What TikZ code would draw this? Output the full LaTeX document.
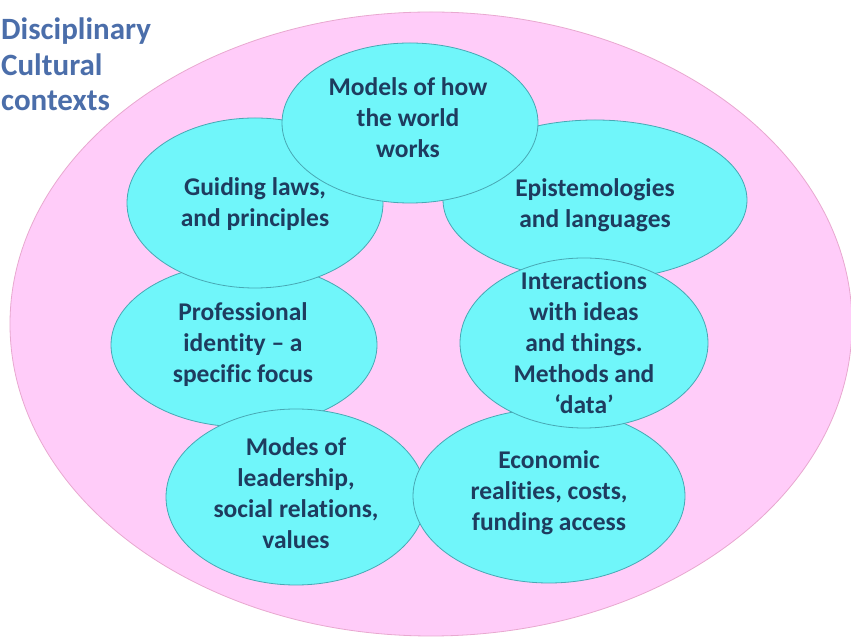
\documentclass[tikz,border=0pt]{standalone}
\usepackage{fontspec}
\setmainfont{Carlito}[RawFeature={-liga,-dlig,-clig}]
\usetikzlibrary{shapes.geometric}
\definecolor{pinkfill}{HTML}{FFCCF9}
\definecolor{pinkline}{HTML}{E8A8D0}
\definecolor{cyanfill}{HTML}{70F6FA}
\definecolor{cyanline}{HTML}{48A8B4}
\definecolor{navytext}{HTML}{1E3C5F}
\definecolor{headblue}{HTML}{4B6EAA}
\tikzset{
  bubble/.style={ellipse, draw=cyanline, fill=cyanfill, line width=0.8pt,
    inner sep=0pt},
  bubbletext/.style={inner sep=0pt, align=center, text=navytext,
    font=\bfseries\fontsize{25.5}{31}\selectfont},
  headline/.style={anchor=base west, inner sep=0pt, text=headblue,
    font=\bfseries\fontsize{31}{36}\selectfont}
}
\begin{document}
\begin{tikzpicture}[x=1pt,y=1pt]
\useasboundingbox (0,0) rectangle (851,637);
\fill[white] (0,0) rectangle (851,637);
% outer context ellipse
\node[ellipse, draw=pinkline, fill=pinkfill, line width=0.8pt,
  minimum width=842pt, minimum height=624pt, inner sep=0pt] (ctx) at (431,313) {};
% heading
\node[headline] (h1) at (1,597) {Disciplinary};
\node[headline] (h2) at (1,561) {Cultural};
\node[headline] (h3) at (1,526) {contexts};
% bubbles
\node[bubble, minimum width=266pt, minimum height=164pt] (prof) at (244,292) {};
\node[bubble, minimum width=256pt, minimum height=170pt] (guide) at (255,434) {};
\node[bubble, minimum width=304pt, minimum height=160pt] (epis) at (595,437) {};
\node[bubble, minimum width=256pt, minimum height=160pt] (models) at (410,514) {};
\node[bubble, minimum width=260pt, minimum height=176pt] (modes) at (296,140) {};
\node[bubble, minimum width=272pt, minimum height=174pt] (econ) at (549,141) {};
\node[bubble, minimum width=248pt, minimum height=170pt] (inter) at (584,294) {};
% texts
\node[bubbletext] (profT) at ([xshift=-1pt]prof.center)
  {Professional\\identity – a\\specific focus};
\node[bubbletext] (guideT) at ([yshift=-1pt]guide.center)
  {Guiding laws,\\and principles};
\node[bubbletext] (episT) at ([yshift=-5pt]epis.center)
  {Epistemologies\\and languages};
\node[bubbletext] (modelsT) at ([yshift=5pt,xshift=-2pt]models.center)
  {Models of how\\the world\\works};
\node[bubbletext] (modesT) at ([yshift=4pt]modes.center)
  {Modes of\\leadership,\\social relations,\\values};
\node[bubbletext] (econT) at ([yshift=3pt]econ.center)
  {Economic\\realities, costs,\\funding access};
\node[bubbletext] (interT) at (inter.center)
  {Interactions\\with ideas\\and things.\\Methods and\\‘data’};
\end{tikzpicture}
\end{document}
